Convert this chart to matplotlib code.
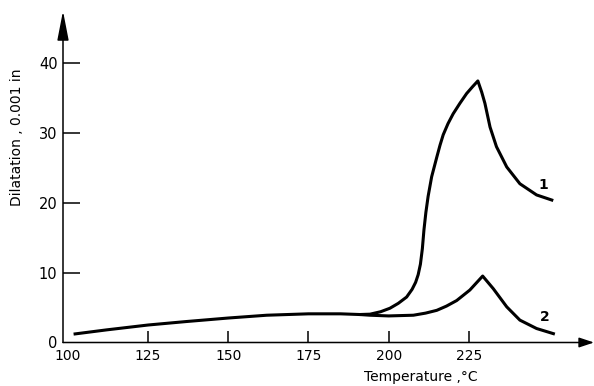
import matplotlib
matplotlib.use("Agg")
import matplotlib.pyplot as plt

# Data
x_tick_vals = [100, 125, 150, 175, 200, 225]
x_tick_labels = ["100", "125", "150", "175", "200", "225"]
y_tick_vals = [0, 10, 20, 30, 40]
y_tick_labels = ["0", "10", "20", "30", "40"]

temp_1 = [101.8, 112, 125, 137, 150, 162, 175, 185, 191, 194.2, 197.5, 200.4,
          203.0, 205.6, 207.3, 208.4, 209.2, 209.9, 210.5, 211.0, 211.6, 212.3,
          213.4, 215.0, 216.0, 217.0, 218.5, 220.1, 222.2, 224.3, 226.2, 227.8,
          229.0, 230.0, 231.6, 233.6, 236.8, 240.9, 246.1, 251.3]
dil_1 = [1.2, 1.8, 2.5, 3.0, 3.5, 3.9, 4.1, 4.1, 4.0, 4.05, 4.4, 4.9,
         5.6, 6.5, 7.6, 8.6, 9.7, 11.2, 13.4, 16.1, 18.6, 20.9,
         23.7, 26.5, 28.2, 29.7, 31.3, 32.7, 34.2, 35.6, 36.6, 37.4,
         35.8, 34.2, 30.8, 28.0, 25.1, 22.7, 21.1, 20.3]

temp_2 = [191, 194.2, 200, 207.7, 211.5, 215.0, 218.0, 221.2, 225.3, 229.3,
          232.6, 236.8, 240.9, 246.1, 251.8]
dil_2 = [4.0, 3.9, 3.8, 3.9, 4.2, 4.6, 5.2, 6.0, 7.5, 9.5,
         7.7, 5.1, 3.2, 2.0, 1.2]

curve_labels = ["1", "2"]

W, H = 594, 386
fig = plt.figure(figsize=(W / 100, H / 100), dpi=100)
left, bottom, right, top = 63, 342.5, 594, 11
ax = fig.add_axes([left / W, (H - bottom) / H, (right - left) / W, (bottom - top) / H])

ax.set_xlim(98.5, 264)
ax.set_ylim(0, 47.4)

lw = 2.2
ax.plot(temp_1, dil_1, color="black", lw=lw, solid_capstyle="butt", solid_joinstyle="round")
ax.plot(temp_2, dil_2, color="black", lw=lw, solid_capstyle="butt", solid_joinstyle="round")

ax.text(248.2, 22.5, curve_labels[0], fontsize=10, fontweight="bold", ha="center", va="center")
ax.text(248.7, 3.6, curve_labels[1], fontsize=10, fontweight="bold", ha="center", va="center")

for s in ["top", "right", "left", "bottom"]:
    ax.spines[s].set_visible(False)

# axis lines with arrow heads
ax.annotate("", xy=(1.0, 0), xytext=(0, 0), xycoords="axes fraction",
            arrowprops=dict(arrowstyle="-|>,head_length=0.9,head_width=0.3",
                            color="black", lw=1.1, mutation_scale=10,
                            shrinkA=0, shrinkB=0), annotation_clip=False)
ax.annotate("", xy=(0, 1.0), xytext=(0, 0), xycoords="axes fraction",
            arrowprops=dict(arrowstyle="-|>,head_length=1.8,head_width=0.35",
                            color="black", lw=1.1, mutation_scale=10,
                            shrinkA=0, shrinkB=0), annotation_clip=False)

ax.set_xticks(x_tick_vals)
ax.set_xticklabels(x_tick_labels, fontsize=10)
ax.set_yticks(y_tick_vals)
ax.set_yticklabels(y_tick_labels, fontsize=10.5)
ax.tick_params(axis="x", direction="in", length=8.5, width=1.1, pad=5)
ax.tick_params(axis="y", direction="in", length=12, width=1.1, pad=4)
ax.xaxis.get_major_ticks()[0].tick1line.set_visible(False)
ax.yaxis.get_major_ticks()[0].tick1line.set_visible(False)

fig.text(421 / W, 1 - 377 / H, "Temperature ,°C", fontsize=10, ha="center", va="center")
fig.text(17.5 / W, 1 - 137 / H, "Dilatation , 0.001 in", fontsize=10, ha="center",
         va="center", rotation=90)

fig.savefig("out.png", dpi=100)
